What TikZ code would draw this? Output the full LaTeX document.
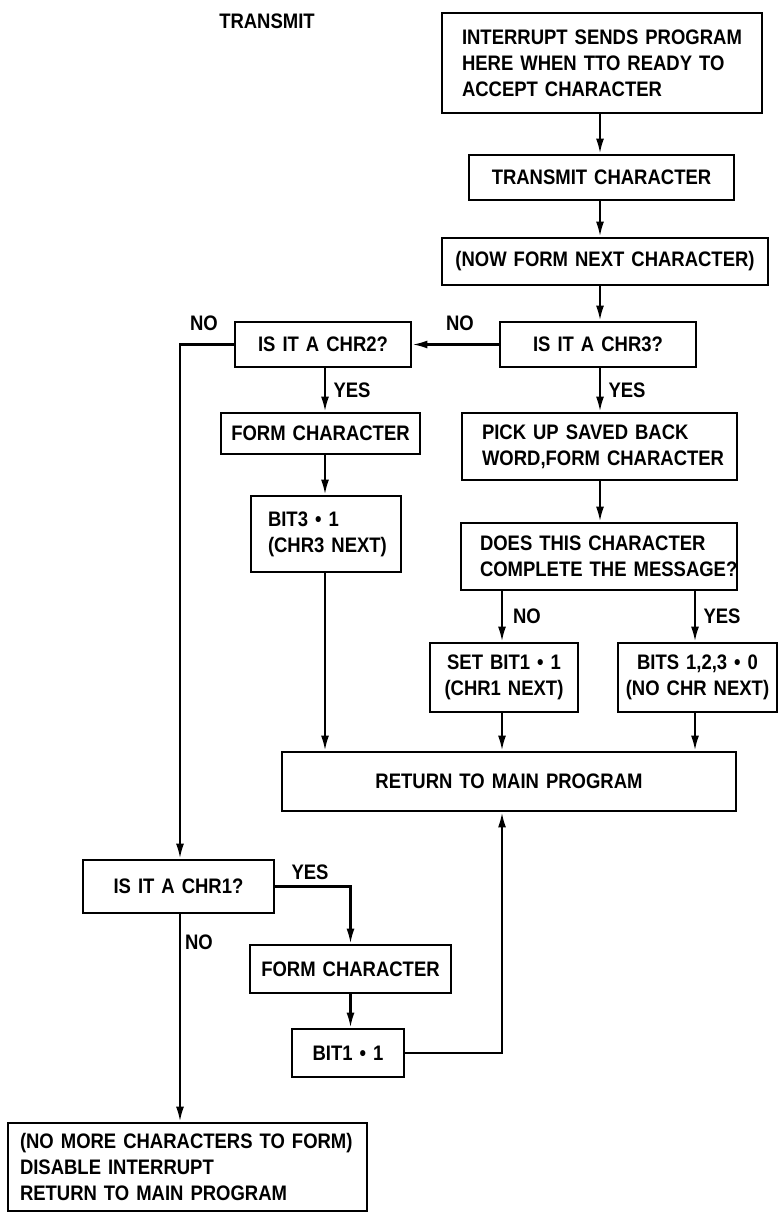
\documentclass[tikz,border=0pt]{standalone}
\usepackage{fontspec}
\setmainfont{Liberation Sans}[FakeStretch=0.88]
\usetikzlibrary{arrows.meta}
\begin{document}
\hyphenpenalty=10000\relax
\exhyphenpenalty=10000\relax
\begin{tikzpicture}[x=1pt,y=-1pt,
  every node/.style={font=\bfseries\fontsize{21}{26}\selectfont},
  box/.style={draw, line width=2.8pt, inner sep=0pt, align=center},
  lbox/.style={draw, line width=2.8pt, inner ysep=0pt, align=left},
  arr/.style={line width=2.2pt, -{Latex[length=15pt,width=8pt]}},
  lbl/.style={inner sep=0pt}]
\useasboundingbox[fill=white] (0,0) rectangle (779,1213);

% title
\node[lbl] (title) at (267,21) {TRANSMIT};

% main column
\node[lbox, inner xsep=20pt, text width=280pt, minimum height=100pt] (intr) at (602,63)
  {INTERRUPT~SENDS~PROGRAM\\HERE~WHEN~TTO~READY~TO\\ACCEPT~CHARACTER};
\node[box, text width=265pt, minimum height=45pt] (xmit) at (601.5,177.5) {TRANSMIT~CHARACTER};
\node[box, text width=326pt, minimum height=47pt] (next) at (605,261.5) {(NOW~FORM~NEXT~CHARACTER)};
\node[box, text width=196pt, minimum height=45pt] (chr3) at (598,344.5) {IS~IT~A~CHR3?};
\node[lbox, inner xsep=20pt, text width=235pt, minimum height=67pt] (pick) at (599.5,446.5)
  {PICK~UP~SAVED~BACK\\WORD,FORM~CHARACTER};
\node[lbox, inner xsep=19pt, text width=238pt, minimum height=67pt] (does) at (599,556.5)
  {DOES~THIS~CHARACTER\\COMPLETE~THE~MESSAGE?};
\node[box, text width=148pt, minimum height=69pt] (set1) at (504,677.5) {SET~BIT1~•~1\\(CHR1~NEXT)};
\node[box, text width=159pt, minimum height=69pt] (bits) at (697.5,677.5) {BITS~1,2,3~•~0\\(NO~CHR~NEXT)};
\node[box, text width=454pt, minimum height=59pt] (ret) at (509,781.5) {RETURN~TO~MAIN~PROGRAM};

% CHR2 branch
\node[box, text width=176pt, minimum height=45pt] (chr2) at (323,344.5) {IS~IT~A~CHR2?};
\node[box, text width=199pt, minimum height=41pt] (formB) at (320.5,433.5) {FORM~CHARACTER};
\node[lbox, inner xsep=17pt, text width=116pt, minimum height=76pt] (bit3) at (326,534)
  {BIT3~•~1\\(CHR3~NEXT)};

% CHR1 branch
\node[box, text width=191pt, minimum height=53pt] (chr1) at (178.5,886.5) {IS~IT~A~CHR1?};
\node[box, text width=201pt, minimum height=48pt] (formA) at (350.5,969) {FORM~CHARACTER};
\node[box, text width=112pt, minimum height=48pt] (bit1) at (348,1053) {BIT1~•~1};
\node[lbox, inner xsep=12pt, text width=335pt, minimum height=88pt] (final) at (187.5,1167)
  {(NO~MORE~CHARACTERS~TO~FORM)\\DISABLE~INTERRUPT\\RETURN~TO~MAIN~PROGRAM};

% connector columns
\coordinate (spine) at (600,0);
\coordinate (colA) at (325,0);
\coordinate (colB) at (502,0);
\coordinate (colC) at (695,0);
\coordinate (lft) at (180,0);

% connectors
\draw[arr] (spine |- intr.south) -- (spine |- xmit.north);
\draw[arr] (spine |- xmit.south) -- (spine |- next.north);
\draw[arr] (spine |- next.south) -- (spine |- chr3.north);
\draw[arr] (chr3.west) -- (chr2.east);
\draw[arr] (spine |- chr3.south) -- (spine |- pick.north);
\draw[arr] (spine |- pick.south) -- (spine |- does.north);
\draw[arr] (colB |- does.south) -- (colB |- set1.north);
\draw[arr] (colC |- does.south) -- (colC |- bits.north);
\draw[arr] (colB |- set1.south) -- (colB |- ret.north);
\draw[arr] (colC |- bits.south) -- (colC |- ret.north);
\draw[arr] (colA |- chr2.south) -- (colA |- formB.north);
\draw[arr] (colA |- formB.south) -- (colA |- bit3.north);
\draw[arr] (colA |- bit3.south) -- (colA |- ret.north);
\draw[arr] (chr2.west) -| (lft |- chr1.north);
\draw[arr] (chr1.east) -| (formA.north);
\draw[arr] (formA.south) -- (formA.south |- bit1.north);
\draw[arr] (bit1.east) -| (colB |- ret.south);
\draw[arr] (lft |- chr1.south) -- (lft |- final.north);

% branch labels
\node[lbl] (no3) at (460,323) {NO};
\node[lbl] (no2) at (204,323) {NO};
\node[lbl] (yes2) at (352,390) {YES};
\node[lbl] (yes3) at (627,390) {YES};
\node[lbl] (nodoes) at (527,616) {NO};
\node[lbl] (yesdoes) at (722,616) {YES};
\node[lbl] (yes1) at (310,872) {YES};
\node[lbl] (no1) at (199,942) {NO};
\end{tikzpicture}
\end{document}
